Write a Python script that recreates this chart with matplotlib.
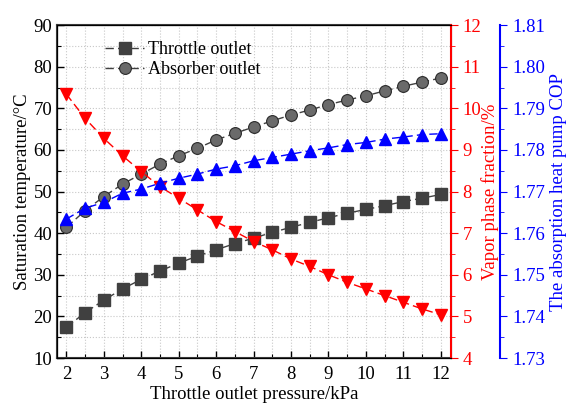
import numpy as np
import matplotlib
matplotlib.use("Agg")
from matplotlib import pyplot as plt
from matplotlib.ticker import MultipleLocator

# data
pressure = [2, 2.5, 3, 3.5, 4, 4.5, 5, 5.5, 6, 6.5, 7, 7.5, 8, 8.5, 9, 9.5, 10, 10.5, 11, 11.5, 12]
throttle_T = [17.4, 20.9, 23.9, 26.6, 28.9, 30.9, 32.8, 34.5, 36.0, 37.5, 38.8, 40.2, 41.4,
              42.6, 43.7, 44.8, 45.7, 46.6, 47.6, 48.4, 49.3]
absorber_T = [41.4, 45.4, 48.8, 51.8, 54.2, 56.6, 58.6, 60.4, 62.4, 64.0, 65.5, 67.0, 68.4,
              69.6, 70.9, 72.0, 73.0, 74.2, 75.3, 76.3, 77.3]
vapor_frac = [10.34, 9.76, 9.28, 8.86, 8.48, 8.12, 7.84, 7.56, 7.28, 7.04, 6.80, 6.60, 6.38,
              6.20, 6.00, 5.82, 5.66, 5.50, 5.34, 5.18, 5.04]
cop = [1.7634, 1.7660, 1.7674, 1.7696, 1.7706, 1.7720, 1.7732, 1.7742, 1.7754, 1.7762, 1.7774,
       1.7782, 1.7790, 1.7798, 1.7805, 1.7813, 1.7818, 1.7826, 1.7831, 1.7837, 1.7839]

plt.rcParams['font.family'] = ['Liberation Serif', 'DejaVu Serif']

dark = '#404040'
fs = 13.5

fig = plt.figure(figsize=(5.7, 4.05), dpi=100)
ax = fig.add_axes([0.1, 0.116, 0.691, 0.822])

ax.plot(pressure, throttle_T, ls=(0, (6, 3)), lw=1, color=dark, marker='s', ms=8,
        mfc=dark, mec=dark, label='Throttle outlet', zorder=3)
ax.plot(pressure, absorber_T, ls=(0, (6, 3)), lw=1, color=dark, marker='o', ms=8.5,
        mfc='#6a6a6a', mec='#2a2a2a', mew=0.8, label='Absorber outlet', zorder=3)

ax.set_xlim(1.75, 12.27)
ax.set_ylim(10, 90)
ax.xaxis.set_major_locator(MultipleLocator(1))
ax.xaxis.set_minor_locator(MultipleLocator(0.5))
ax.yaxis.set_major_locator(MultipleLocator(10))
ax.yaxis.set_minor_locator(MultipleLocator(5))
ax.grid(which='both', color='#c8c8c8', ls=':', lw=0.8)
ax.tick_params(which='both', direction='in', labelsize=fs, top=False, right=False)
ax.tick_params(which='major', length=5, width=1)
ax.tick_params(which='minor', length=3, width=0.8)
ax.tick_params(axis='x', pad=6)
for s in ['left', 'bottom', 'top']:
    ax.spines[s].set_color(dark)
    ax.spines[s].set_linewidth(1.5)
ax.set_xlabel('Throttle outlet pressure/kPa', fontsize=fs, labelpad=2)
ax.set_ylabel('Saturation temperature/°C', fontsize=fs, labelpad=2)

leg = ax.legend(loc='upper left', bbox_to_anchor=(0.08, 1.0), frameon=False,
                fontsize=13, handlelength=2.2, handletextpad=0.2, labelspacing=0.15)

# red axis
ax2 = ax.twinx()
ax2.plot(pressure, vapor_frac, ls=(0, (6, 3)), lw=1, color='red', marker='v', ms=9,
         mfc='red', mec='red', zorder=3)
ax2.set_ylim(4, 12)
ax2.yaxis.set_major_locator(MultipleLocator(1))
ax2.yaxis.set_minor_locator(MultipleLocator(0.5))
ax2.tick_params(axis='y', which='both', colors='red', labelsize=fs, direction='out')
ax2.tick_params(axis='y', which='major', length=5)
ax2.tick_params(axis='y', which='minor', length=3)
ax2.spines['right'].set_color('red')
ax2.spines['right'].set_linewidth(1.5)
ax2.set_ylabel('Vapor phase fraction/%', fontsize=fs, color='red', labelpad=0)

# blue axis
ax3 = ax.twinx()
ax3.spines['right'].set_position(('axes', 1.125))
ax3.plot(pressure, cop, ls=(0, (6, 3)), lw=1, color='blue', marker='^', ms=9,
         mfc='blue', mec='blue', zorder=3)
ax3.set_ylim(1.73, 1.81)
ax3.yaxis.set_major_locator(MultipleLocator(0.01))
ax3.yaxis.set_minor_locator(MultipleLocator(0.005))
ax3.yaxis.set_major_formatter(matplotlib.ticker.FormatStrFormatter('%.2f'))
ax3.tick_params(axis='y', which='both', colors='blue', labelsize=fs, direction='out')
ax3.tick_params(axis='y', which='major', length=5)
ax3.tick_params(axis='y', which='minor', length=3)
ax3.spines['right'].set_color('blue')
ax3.spines['right'].set_linewidth(1.5)
ax3.set_ylabel('The absorption heat pump COP', fontsize=fs, color='blue', labelpad=4)

fig.savefig('out.png', dpi=100)
